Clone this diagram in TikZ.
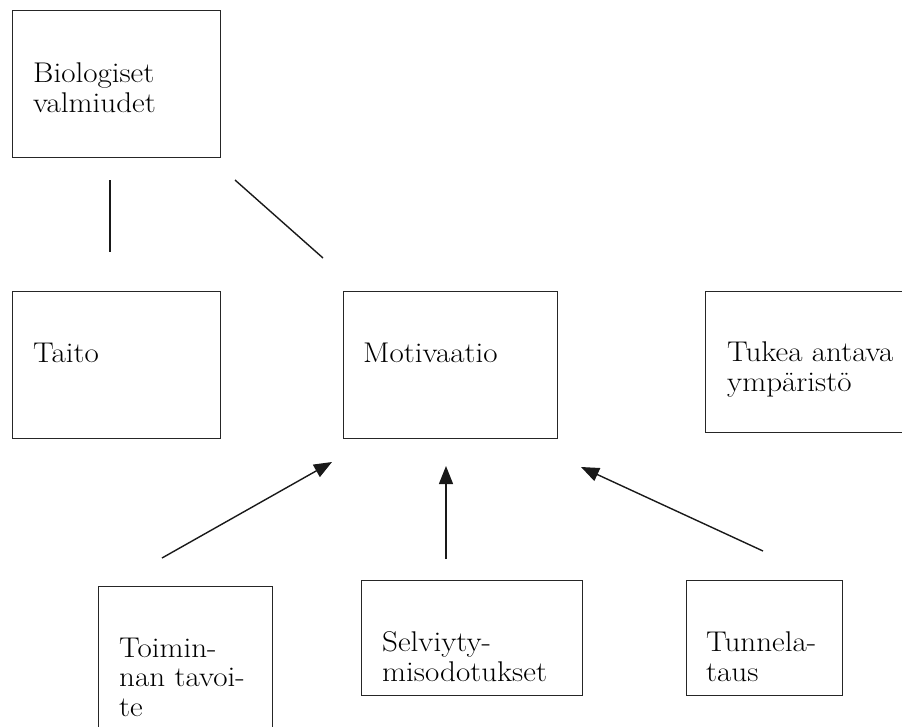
\documentclass[tikz,border=0pt]{standalone}
\usepackage{fontspec}
\setmainfont{Latin Modern Roman}[FakeStretch=1.09]
\usetikzlibrary{arrows.meta}
\begin{document}
\begin{tikzpicture}[x=1pt,y=-1pt,
  box/.style={draw=black!85, line width=1.3pt, rectangle, inner sep=0pt, anchor=north west},
  lbl/.style={anchor=base west, inner sep=0pt, align=left, font=\fontsize{28.5}{29.5}\selectfont},
  conn/.style={line width=1.4pt, black!90},
  arr/.style={conn, -{Triangle[length=18pt,width=14pt]}}]
\useasboundingbox (0,0) rectangle (902,726);
% boxes
\node[box, minimum width=208pt, minimum height=147pt] (bio) at (12,10) {};
\node[box, minimum width=208pt, minimum height=147pt] (taito) at (12,291) {};
\node[box, minimum width=214pt, minimum height=147pt] (moti) at (343,291) {};
\node[box, minimum width=220pt, minimum height=141pt] (tukea) at (705,291) {};
\node[box, minimum width=174pt, minimum height=160pt] (toim) at (98,586) {};
\node[box, minimum width=221pt, minimum height=115pt] (selv) at (361,580) {};
\node[box, minimum width=156pt, minimum height=115pt] (tunn) at (686,580) {};
% labels (anchor base = baseline of last line)
\node[lbl] (tbio) at (33,112) {Biologiset\\valmiudet};
\node[lbl] (ttaito) at (33,362) {Taito};
\node[lbl] (tmoti) at (363,362) {Motivaatio};
\node[lbl] (ttukea) at (727,391) {Tukea antava\\ympäristö};
\node[lbl] (ttoim) at (119,716) {Toimin-\\nan tavoi-\\te};
\node[lbl] (tselv) at (382,681) {Selviyty-\\misodotukset};
\node[lbl] (ttunn) at (706,681) {Tunnela-\\taus};
% connector end points
\coordinate (a1) at (110,180);
\coordinate (a2) at (110,252);
\coordinate (b1) at (235,180);
\coordinate (b2) at (323,258);
\coordinate (c1) at (162,558);
\coordinate (c2) at (332,462);
\coordinate (d1) at (446,559);
\coordinate (d2) at (446,466);
\coordinate (e1) at (763,551);
\coordinate (e2) at (581,467);
% connectors
\draw[conn] (a1) -- (a2);
\draw[conn] (b1) -- (b2);
\draw[arr] (c1) -- (c2);
\draw[arr] (d1) -- (d2);
\draw[arr] (e1) -- (e2);
\end{tikzpicture}
\end{document}
